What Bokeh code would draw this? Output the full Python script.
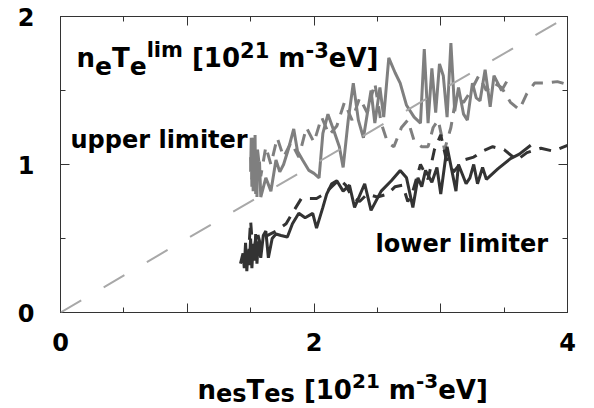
from bokeh.plotting import figure
from bokeh.layouts import column
from bokeh.models import Label, LinearAxis, FixedTicker, Slope
from bokeh.embed import file_html
from bokeh.resources import INLINE

# ---------------- data ----------------
upper_solid_x = [1.50, 1.505, 1.51, 1.515, 1.52, 1.525, 1.53, 1.535, 1.54, 1.545, 1.55, 1.555, 1.56, 1.57,
                 1.58, 1.62, 1.66, 1.70, 1.73, 1.76, 1.80, 1.84, 1.87, 1.91, 1.96, 2.00, 2.04, 2.07, 2.11,
                 2.16, 2.20, 2.23, 2.27, 2.31, 2.35, 2.39, 2.45, 2.48, 2.52, 2.55, 2.59, 2.64, 2.68, 2.73,
                 2.79, 2.84, 2.87, 2.90, 2.93, 2.96, 2.99, 3.02, 3.05, 3.08, 3.11, 3.14, 3.18, 3.21, 3.25,
                 3.28, 3.31, 3.35, 3.39, 3.42, 3.45, 3.48, 3.52]
upper_solid_y = [0.95, 1.18, 0.85, 1.15, 0.82, 1.12, 0.88, 1.20, 0.80, 1.05, 0.78, 1.10, 0.90, 1.02,
                 0.78, 0.91, 0.82, 1.03, 0.95, 1.00, 1.11, 1.24, 1.09, 1.03, 0.96, 0.94, 0.91, 1.21, 1.34,
                 1.22, 1.12, 0.98, 1.30, 1.55, 1.30, 1.18, 1.50, 1.28, 1.52, 1.32, 1.72, 1.62, 1.55, 1.40,
                 1.32, 1.28, 1.78, 1.28, 1.65, 1.35, 1.68, 1.60, 1.32, 1.82, 1.36, 1.52, 1.34, 1.30, 1.55,
                 1.45, 1.43, 1.64, 1.39, 1.60, 1.55, 1.50, 1.56]

upper_dash_x = [1.50, 1.51, 1.52, 1.53, 1.55, 1.58, 1.62, 1.66, 1.71, 1.76, 1.82, 1.88, 1.94, 2.00,
                2.06, 2.12, 2.18, 2.24, 2.30, 2.36, 2.42, 2.48, 2.53, 2.58, 2.63, 2.69, 2.74, 2.79,
                2.85, 2.90, 2.94, 2.98, 3.03, 3.08, 3.12, 3.18, 3.24, 3.30, 3.36, 3.42, 3.48, 3.55,
                3.62, 3.68, 3.74, 3.82, 3.92, 4.00]
upper_dash_y = [1.05, 0.90, 1.18, 0.95, 1.12, 0.92, 1.12, 1.00, 1.18, 1.05, 1.15, 1.05, 1.25, 1.15,
                1.32, 1.20, 1.26, 1.42, 1.30, 1.45, 1.35, 1.55, 1.28, 1.15, 1.12, 1.25, 1.30, 1.16,
                1.12, 1.12, 1.25, 1.30, 1.10, 1.25, 1.45, 1.42, 1.50, 1.60, 1.50, 1.55, 1.52, 1.42,
                1.37, 1.48, 1.55, 1.55, 1.56, 1.54]

lower_solid_x = [1.42, 1.44, 1.45, 1.46, 1.47, 1.48, 1.49, 1.50, 1.51, 1.52, 1.53, 1.54, 1.55, 1.56,
                 1.58, 1.60, 1.62, 1.64, 1.67, 1.70, 1.74, 1.79, 1.83, 1.88, 1.93, 1.99, 2.02, 2.07,
                 2.10, 2.14, 2.18, 2.23, 2.28, 2.32, 2.40, 2.45, 2.53, 2.61, 2.68, 2.73, 2.78, 2.82,
                 2.85, 2.88, 2.93, 2.97, 3.00, 3.05, 3.12, 3.14, 3.20, 3.23, 3.26, 3.29, 3.33, 3.36,
                 3.45, 3.55, 3.62, 3.71]
lower_solid_y = [0.33, 0.40, 0.30, 0.47, 0.28, 0.42, 0.32, 0.50, 0.30, 0.45, 0.35, 0.53, 0.33, 0.48,
                 0.37, 0.52, 0.55, 0.37, 0.50, 0.53, 0.52, 0.51, 0.60, 0.67, 0.64, 0.67, 0.57, 0.71,
                 0.80, 0.87, 0.89, 0.82, 0.86, 0.71, 0.87, 0.69, 0.82, 0.89, 0.96, 0.91, 0.71, 0.91,
                 0.85, 0.96, 0.88, 0.98, 0.80, 1.12, 0.82, 1.00, 0.87, 0.91, 1.00, 0.87, 0.98, 0.90,
                 0.97, 1.04, 1.07, 1.13]

lower_dash_x = [1.48, 1.50, 1.52, 1.55, 1.58, 1.63, 1.70, 1.78, 1.85, 1.90, 1.96, 2.02, 2.08, 2.14,
                2.20, 2.25, 2.30, 2.36, 2.42, 2.50, 2.58, 2.64, 2.70, 2.74, 2.78, 2.84, 2.90, 2.95,
                3.00, 3.04, 3.10, 3.18, 3.26, 3.33, 3.41, 3.50, 3.60, 3.68, 3.79, 3.89, 4.00]
lower_dash_y = [0.35, 0.62, 0.38, 0.55, 0.45, 0.52, 0.55, 0.60, 0.70, 0.77, 0.77, 0.77, 0.80, 0.85,
                0.90, 0.86, 0.78, 0.75, 0.80, 0.78, 0.80, 0.85, 0.86, 0.75, 0.82, 1.00, 0.90, 1.10,
                1.20, 1.05, 0.95, 1.03, 1.05, 1.09, 1.12, 1.10, 1.03, 1.08, 1.11, 1.09, 1.13]

x_ticks = [0, 1, 2, 3, 4]
x_minor = [0.5, 1.5, 2.5, 3.5]
y_ticks = [0, 1, 2]
y_minor = [0.5, 1.5]
diag_slope = 0.5

# ---------------- styling ----------------
FONT = "DejaVu Sans"
UPPER = "#7f7f7f"
LOWER = "#333333"
AXC = "#333333"

PAGE_W = 594
MAIN_H = 360
TITLE_H = 48

# frame in page pixels (for placing the texts)
FL, FT, FW, FH = 60, 16, 507, 296
XMAX, YMAX = 4.0, 2.0

def dx(px):
    return (px - FL) / FW * XMAX

def dy(py):
    return (FT + FH - py) / FH * YMAX

p = figure(width=PAGE_W, height=MAIN_H, x_range=(0, XMAX), y_range=(0, YMAX),
           output_backend="svg", toolbar_location=None, title=None,
           min_border_left=FL, min_border_right=PAGE_W - FL - FW,
           min_border_top=FT, min_border_bottom=MAIN_H - FT - FH)
p.grid.visible = False
p.outline_line_color = AXC
p.outline_line_width = 1

def style_axis(ax, ticks, minor, labels=True):
    ax.ticker = FixedTicker(ticks=ticks, minor_ticks=minor)
    ax.axis_line_color = AXC
    ax.major_tick_line_color = AXC
    ax.minor_tick_line_color = AXC
    ax.major_tick_in = 9
    ax.major_tick_out = 0
    ax.minor_tick_in = 5
    ax.minor_tick_out = 0
    if labels:
        ax.major_label_text_font = FONT
        ax.major_label_text_font_style = "bold"
        ax.major_label_text_font_size = "24px"
        ax.major_label_text_color = "black"
    else:
        ax.major_label_text_font_size = "1px"
        ax.major_label_text_color = None
        ax.major_label_standoff = 0

style_axis(p.xaxis[0], x_ticks, x_minor)
p.xaxis[0].major_label_overrides = {1: "", 3: ""}
p.xaxis[0].major_label_standoff = 20
style_axis(p.yaxis[0], y_ticks, y_minor)
p.yaxis[0].major_label_standoff = 26

top = LinearAxis()
style_axis(top, x_ticks, x_minor, labels=False)
p.add_layout(top, "above")
right = LinearAxis()
style_axis(right, y_ticks, y_minor, labels=False)
p.add_layout(right, "right")

# data lines
p.line(upper_dash_x, upper_dash_y, line_color=UPPER, line_width=3, line_dash="12 9")
p.line(upper_solid_x, upper_solid_y, line_color=UPPER, line_width=3)
p.line(lower_dash_x, lower_dash_y, line_color=LOWER, line_width=3, line_dash="12 9")
p.line(lower_solid_x, lower_solid_y, line_color=LOWER, line_width=3)

p.add_layout(Slope(gradient=diag_slope, y_intercept=0, line_color="#a8a8a8",
                   line_width=2, line_dash="24 26"))

# ---------------- texts ----------------
W = {" ": 348, "n": 712, "e": 678, "s": 595, "T": 682, "l": 343, "i": 343, "m": 1042,
     "[": 457, "]": 457, "-": 415, "V": 774, "0": 696, "1": 696, "2": 696, "3": 696}

def tw(s, size):
    return sum(W.get(c, 600) for c in s) * size / 1000.0

def rich(fig, pieces, x0, base, tx, ty, main, sub, sup, sub_dy, sup_dy):
    x = x0
    for txt, kind in pieces:
        size = {"m": main, "b": sub, "p": sup}[kind]
        off = {"m": 0, "b": sub_dy, "p": sup_dy}[kind]
        lead = len(txt) - len(txt.lstrip(" "))
        x += tw(" " * lead, size)
        body = txt.lstrip(" ")
        fig.add_layout(Label(x=tx(x), y=ty(base + off), text=body, text_font=FONT,
                             text_font_style="bold", text_font_size=f"{size}px",
                             text_color="black", text_align="left",
                             text_baseline="alphabetic"))
        x += tw(body, size)

# y title (inside the frame)
rich(p, [("n", "m"), ("e", "b"), ("T", "m"), ("e", "b"), ("lim", "p"), (" [10", "m"),
         ("21", "p"), (" m", "m"), ("-3", "p"), ("eV]", "m")],
     76, 57, dx, dy, main=26, sub=25, sup=21, sub_dy=8, sup_dy=-8)

for txt, px, py in [("upper limiter", 70, 139), ("lower limiter", 375, 243)]:
    p.add_layout(Label(x=dx(px), y=dy(py), text=txt, text_font=FONT, text_font_style="bold",
                       text_font_size="24px", text_color="black", text_align="left",
                       text_baseline="alphabetic"))

# x axis title: a strip below the plot whose frame matches the plot's frame
# horizontally; its ranges are page pixels
t = figure(width=PAGE_W, height=TITLE_H, x_range=(FL, FL + FW),
           y_range=(MAIN_H + TITLE_H, MAIN_H),
           x_axis_type=None, y_axis_type=None, output_backend="svg",
           toolbar_location=None, title=None,
           min_border_left=FL, min_border_right=PAGE_W - FL - FW,
           min_border_top=0, min_border_bottom=0)
t.outline_line_color = None
t.grid.visible = False
rich(t, [("n", "m"), ("es", "b"), ("T", "m"), ("es", "b"), (" [10", "m"),
         ("21", "p"), (" m", "m"), ("-3", "p"), ("eV]", "m")],
     197, 389, lambda v: v, lambda v: v, main=26, sub=24, sup=20, sub_dy=4, sup_dy=-9)

layout = column(p, t, spacing=0)
open("out.html", "w").write(file_html(layout, INLINE))
